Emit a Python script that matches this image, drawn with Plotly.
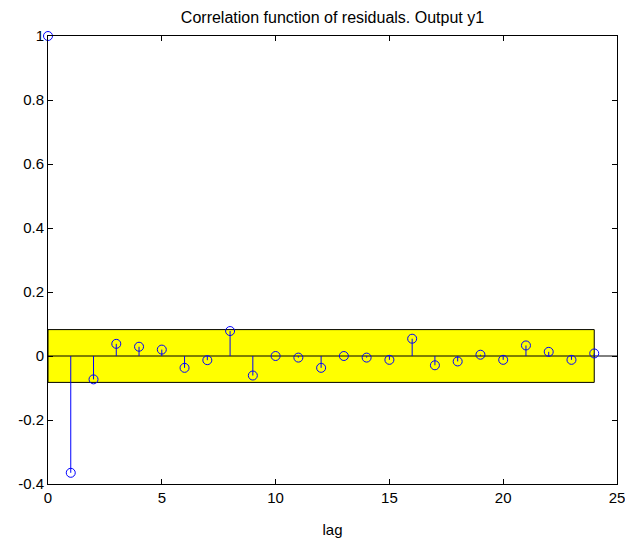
import plotly.graph_objects as go

# Residual autocorrelation of output y1, lags 0..24
lags = list(range(25))
corr = [1.0, -0.365, -0.073, 0.038, 0.029, 0.020, -0.037, -0.013, 0.078, -0.061,
        0.0, -0.005, -0.037, 0.0, -0.005, -0.012, 0.054, -0.029, -0.017, 0.004,
        -0.012, 0.033, 0.013, -0.012, 0.008]
conf_level = 0.0825  # half-width of the confidence band
x_ticks = [0, 5, 10, 15, 20, 25]
y_ticks = [-0.4, -0.2, 0, 0.2, 0.4, 0.6, 0.8, 1]
x_range = [0, 25]
y_range = [-0.4, 1]

FONT = "Liberation Sans, Arial, sans-serif"
BLUE = "#0000ff"

# stems: vertical segments from 0 to each value, separated by None
# (the stem at the left edge lies under the y axis line, so it is skipped)
stem_x, stem_y = [], []
for k, r in zip(lags, corr):
    if k == x_range[0]:
        continue
    stem_x += [k, k, None]
    stem_y += [0, r, None]

fig = go.Figure()

# confidence band (yellow rectangle with black outline)
fig.add_shape(type="rect", xref="x", yref="y",
              x0=lags[0], x1=lags[-1], y0=-conf_level, y1=conf_level,
              fillcolor="#ffff00", line=dict(color="black", width=1),
              layer="below")

# zero line across the axes
fig.add_trace(go.Scatter(x=x_range, y=[0, 0], mode="lines",
                         line=dict(color="black", width=1), hoverinfo="skip",
                         showlegend=False))

fig.add_trace(go.Scatter(x=stem_x, y=stem_y, mode="lines",
                         line=dict(color=BLUE, width=1), showlegend=False,
                         hoverinfo="skip"))
fig.add_trace(go.Scatter(x=lags, y=corr, mode="markers",
                         marker=dict(symbol="circle-open", size=9, color=BLUE,
                                     line=dict(width=1, color=BLUE)),
                         cliponaxis=False, showlegend=False))

axis_common = dict(showgrid=False, zeroline=False, showline=True, mirror="allticks",
                   linecolor="black", linewidth=1, ticks="inside", ticklen=5,
                   tickcolor="black", ticklabeloverflow="allow",
                   tickfont=dict(family=FONT, size=15, color="black"))

fig.update_layout(
    width=625, height=538,
    margin=dict(l=48, r=8, t=36, b=54, autoexpand=False),
    paper_bgcolor="white", plot_bgcolor="white",
    title=dict(text="Correlation function of residuals. Output y1",
               font=dict(family=FONT, size=16, color="black"),
               xref="paper", x=0.5, xanchor="center",
               yref="container", y=1 - 17 / 538, yanchor="middle"),
    xaxis=dict(range=x_range, tickvals=x_ticks,
               title=dict(text="lag", font=dict(family=FONT, size=15, color="black"),
                          standoff=19),
               **axis_common),
    yaxis=dict(range=y_range, tickvals=y_ticks,
               ticktext=[f"{v:g}" for v in y_ticks], **axis_common),
)

fig.write_html("out.html")
